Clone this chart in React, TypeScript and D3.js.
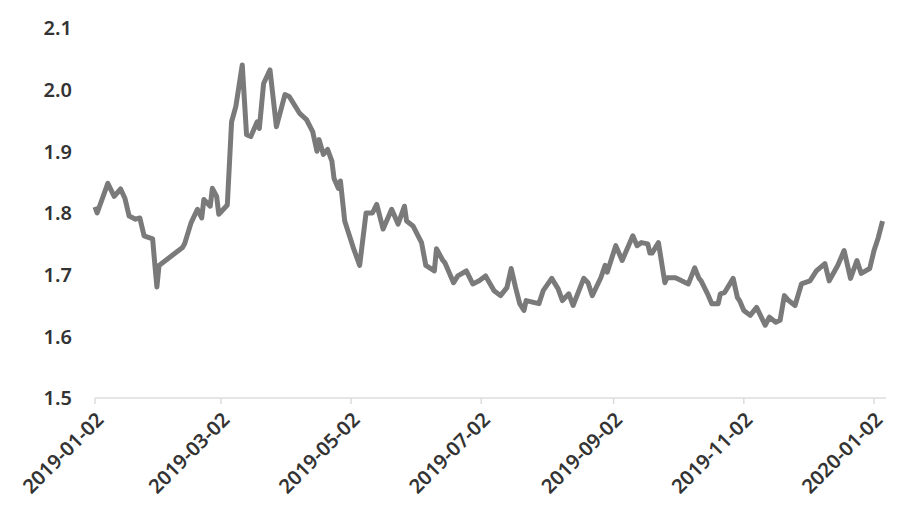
import React, { useRef, useEffect } from 'react';
import * as d3 from 'd3';

// daily values
const dates = [
  '2019-01-02', '2019-01-03', '2019-01-08', '2019-01-11', '2019-01-14', '2019-01-16', '2019-01-18',
  '2019-01-21', '2019-01-23', '2019-01-25', '2019-01-29', '2019-01-30', '2019-01-31', '2019-02-01',
  '2019-02-12', '2019-02-13', '2019-02-16', '2019-02-19', '2019-02-21', '2019-02-22', '2019-02-25',
  '2019-02-26', '2019-02-28', '2019-03-01', '2019-03-05', '2019-03-07', '2019-03-09', '2019-03-12',
  '2019-03-14', '2019-03-16', '2019-03-19', '2019-03-20', '2019-03-22', '2019-03-25', '2019-03-28',
  '2019-04-01', '2019-04-03', '2019-04-08', '2019-04-11', '2019-04-14', '2019-04-16', '2019-04-17',
  '2019-04-19', '2019-04-21', '2019-04-23', '2019-04-24', '2019-04-26', '2019-04-27', '2019-04-29',
  '2019-05-03', '2019-05-06', '2019-05-09', '2019-05-12', '2019-05-14', '2019-05-17', '2019-05-21',
  '2019-05-24', '2019-05-27', '2019-05-28', '2019-05-31', '2019-06-04', '2019-06-06', '2019-06-10',
  '2019-06-11', '2019-06-14', '2019-06-15', '2019-06-19', '2019-06-21', '2019-06-25', '2019-06-28',
  '2019-07-01', '2019-07-04', '2019-07-08', '2019-07-11', '2019-07-14', '2019-07-16', '2019-07-18',
  '2019-07-20', '2019-07-22', '2019-07-23', '2019-07-29', '2019-07-31', '2019-08-04', '2019-08-07',
  '2019-08-09', '2019-08-12', '2019-08-14', '2019-08-19', '2019-08-21', '2019-08-23', '2019-08-27',
  '2019-08-29', '2019-08-30', '2019-09-03', '2019-09-06', '2019-09-11', '2019-09-13', '2019-09-15',
  '2019-09-18', '2019-09-19', '2019-09-20', '2019-09-23', '2019-09-26', '2019-09-27', '2019-10-01',
  '2019-10-07', '2019-10-10', '2019-10-12', '2019-10-13', '2019-10-16', '2019-10-18', '2019-10-21',
  '2019-10-22', '2019-10-24', '2019-10-28', '2019-10-30', '2019-10-31', '2019-11-02', '2019-11-05',
  '2019-11-08', '2019-11-12', '2019-11-14', '2019-11-17', '2019-11-19', '2019-11-21', '2019-11-23',
  '2019-11-26', '2019-11-29', '2019-12-03', '2019-12-06', '2019-12-10', '2019-12-12', '2019-12-16',
  '2019-12-19', '2019-12-22', '2019-12-25', '2019-12-27', '2019-12-31', '2020-01-02', '2020-01-04',
  '2020-01-06',
];

const values = [
  1.81, 1.80, 1.848, 1.827, 1.839, 1.824, 1.795,
  1.79, 1.792, 1.763, 1.758, 1.718, 1.68, 1.715,
  1.744, 1.75, 1.784, 1.806, 1.792, 1.822, 1.811,
  1.84, 1.827, 1.798, 1.813, 1.948, 1.973, 2.04,
  1.927, 1.924, 1.948, 1.937, 2.01, 2.032, 1.94,
  1.992, 1.989, 1.961, 1.952, 1.932, 1.90, 1.919,
  1.895, 1.903, 1.884, 1.856, 1.84, 1.852, 1.787,
  1.744, 1.715, 1.80, 1.80, 1.814, 1.774, 1.806,
  1.782, 1.811, 1.787, 1.779, 1.752, 1.715, 1.706,
  1.742, 1.723, 1.719, 1.687, 1.698, 1.706, 1.685,
  1.69, 1.698, 1.674, 1.666, 1.679, 1.71, 1.68,
  1.653, 1.642, 1.658, 1.653, 1.674, 1.694, 1.677,
  1.658, 1.669, 1.65, 1.694, 1.687, 1.666, 1.695,
  1.715, 1.704, 1.747, 1.723, 1.763, 1.747, 1.752,
  1.75, 1.735, 1.735, 1.752, 1.687, 1.695, 1.695,
  1.685, 1.711, 1.694, 1.69, 1.669, 1.653, 1.653,
  1.669, 1.671, 1.694, 1.663, 1.658, 1.642, 1.634,
  1.647, 1.618, 1.631, 1.623, 1.626, 1.666, 1.658,
  1.65, 1.685, 1.69, 1.706, 1.718, 1.69, 1.715,
  1.739, 1.694, 1.723, 1.702, 1.71, 1.739, 1.76,
  1.787,
];

const xTickLabels = ['2019-01-02', '2019-03-02', '2019-05-02', '2019-07-02', '2019-09-02', '2019-11-02', '2020-01-02'];
const yTicks = [1.5, 1.6, 1.7, 1.8, 1.9, 2.0, 2.1];

const App: React.FC = () => {
  const svgRef = useRef<SVGSVGElement>(null);

  useEffect(() => {
    const width = 900;
    const height = 528;
    const margin = { top: 28, right: 15, bottom: 130, left: 95 };
    const parse = d3.timeParse('%Y-%m-%d');
    const font = '"Noto Sans", "DejaVu Sans", sans-serif';

    const data = dates.map((d, i) => ({ date: parse(d) as Date, value: values[i] }));

    const x = d3.scaleTime()
      .domain([parse(xTickLabels[0]) as Date, parse(xTickLabels[xTickLabels.length - 1]) as Date])
      .range([margin.left, 874]);

    const y = d3.scaleLinear()
      .domain([1.5, 2.1])
      .range([height - margin.bottom, margin.top]);

    const svg = d3.select(svgRef.current);
    svg.selectAll('*').remove();
    svg.attr('width', width).attr('height', height);

    svg.append('rect').attr('width', width).attr('height', height).attr('fill', '#fff');

    // y labels
    svg.append('g')
      .selectAll('text')
      .data(yTicks)
      .join('text')
      .attr('x', 72)
      .attr('y', d => y(d))
      .attr('dy', '0.36em')
      .attr('text-anchor', 'end')
      .attr('font-family', font)
      .attr('font-weight', 600)
      .attr('font-size', 20)
      .attr('fill', '#333')
      .text(d => d.toFixed(1));

    // x axis line and ticks
    const y0 = y(1.5);
    svg.append('line')
      .attr('x1', margin.left).attr('x2', 886)
      .attr('y1', y0).attr('y2', y0)
      .attr('stroke', '#dcdcdc').attr('stroke-width', 1.5);

    const tickG = svg.append('g');
    xTickLabels.forEach(t => {
      const tx = x(parse(t) as Date);
      tickG.append('line')
        .attr('x1', tx).attr('x2', tx)
        .attr('y1', y0).attr('y2', y0 + 6)
        .attr('stroke', '#dcdcdc').attr('stroke-width', 1.5);
      tickG.append('text')
        .attr('transform', `translate(${tx + 5},${y0 + 18}) rotate(-45)`)
        .attr('text-anchor', 'end')
        .attr('dy', '0.35em')
        .attr('font-family', font)
        .attr('font-weight', 600)
        .attr('font-size', 20)
        .attr('fill', '#333')
        .text(t);
    });

    const line = d3.line<{ date: Date; value: number }>()
      .x(d => x(d.date))
      .y(d => y(d.value));

    svg.append('path')
      .datum(data)
      .attr('fill', 'none')
      .attr('stroke', '#7a7a7a')
      .attr('stroke-width', 5)
      .attr('stroke-linejoin', 'round')
      .attr('d', line);
  }, []);

  return (
    <div style={{ position: 'absolute', left: 0, top: 0 }}>
      <svg ref={svgRef}></svg>
    </div>
  );
};

export default App;
